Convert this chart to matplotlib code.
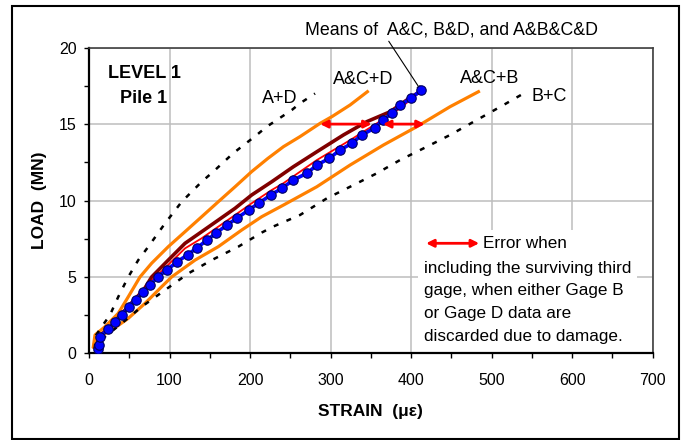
import matplotlib
matplotlib.use("Agg")
import matplotlib.pyplot as plt
from matplotlib.patches import Rectangle
from matplotlib.ticker import MultipleLocator

plt.rcParams['font.family'] = ['Liberation Sans', 'DejaVu Sans']

# ---- data (strain in microstrain, load in MN) ----
mean_all_x = [10.8, 12.4, 13.7, 24, 32.3, 40.6, 49.3, 58, 67.5, 76, 85.7, 97.3, 109.7, 122.6,
              134.2, 146.6, 157.8, 171.4, 184.3, 198.4, 211.2, 225.7, 239.4, 253.8, 270.4,
              283.6, 298.5, 311.5, 326.3, 338.8, 355, 364.8, 376, 386.3, 399.6, 412.4]
mean_all_y = [0.26, 0.54, 1.09, 1.57, 2.07, 2.5, 3.05, 3.5, 4.03, 4.47, 5.02, 5.47, 6.0, 6.45,
              6.91, 7.41, 7.87, 8.4, 8.86, 9.38, 9.84, 10.36, 10.8, 11.34, 11.78,
              12.34, 12.76, 13.3, 13.74, 14.29, 14.75, 15.27, 15.7, 16.23, 16.69, 17.2]

mean_ac_x = [10, 12, 24, 40, 58, 68, 77.9, 98.5, 119.3, 140, 160.6, 181.4, 202, 227, 253.8,
             282.9, 316, 345, 374, 394.7, 413]
mean_ac_y = [0.3, 1.1, 1.6, 2.55, 3.6, 4.15, 5.0, 6.1, 7.2, 7.96, 8.72, 9.49, 10.36, 11.23, 12.21,
             13.19, 14.29, 15.16, 15.81, 16.58, 17.2]

mean_bd_x = [10, 12, 24, 40, 58, 68, 78, 98.5, 119.3, 140, 160.6, 181.4, 202, 227, 241.4,
             283, 324.2, 357.4, 386.3, 413]
mean_bd_y = [0.3, 1.1, 1.57, 2.52, 3.55, 4.1, 4.75, 5.8, 6.87, 7.53, 8.29, 9.05, 9.82, 10.69, 11.13,
             12.65, 13.95, 15.05, 16.03, 17.2]

acd_x = [5.4, 7.5, 19.9, 36.4, 48.8, 63.4, 77.9, 98.5, 119.3, 140, 160.6, 181.4, 202, 222,
         241.4, 262, 287, 302, 324.2, 345.7]
acd_y = [0.43, 1.2, 1.74, 2.62, 3.7, 5.0, 5.9, 6.98, 7.96, 8.94, 9.92, 10.9, 11.89, 12.75,
         13.52, 14.18, 15.05, 15.5, 16.25, 17.12]

acb_x = [6, 8, 11.6, 28.2, 48.8, 69.6, 90.3, 102.7, 131.7, 160.6, 189.7, 214.5, 241.4, 282.9,
         324.2, 365.6, 407, 448.4, 483.6]
acb_y = [0.4, 1.0, 1.09, 1.52, 2.29, 3.27, 4.36, 5.0, 6.1, 6.98, 8.07, 8.94, 9.7, 10.9,
         12.32, 13.63, 14.83, 16.14, 17.12]

ad_x = [7, 9, 15.8, 26, 36.4, 48.8, 61.2, 73.7, 94.4, 115.2, 140, 154.4, 179, 208.3, 220.7,
        251.8, 262, 280.7]
ad_y = [0.3, 1.2, 1.74, 2.5, 3.7, 5.0, 6.1, 6.98, 8.5, 9.92, 11.23, 11.89, 13.09, 14.29, 14.83,
        15.92, 16.36, 17.0]

bc_x = [8, 12, 19.9, 40.6, 65.5, 94.4, 123.4, 152.4, 185.5, 214.5, 229, 262, 295.3, 324.2,
        357.4, 386.3, 419.5, 448.4, 481.6, 514.7, 539.5]
bc_y = [0.3, 1.0, 1.09, 1.96, 3.05, 4.14, 5.23, 6.1, 6.98, 7.9, 8.3, 9.05, 10.14, 10.9,
        11.78, 12.65, 13.52, 14.29, 15.27, 16.25, 17.0]

# error spans at 15 MN
err_load = 15.0
err_left = (287, 351)
err_right = (365, 417)

x_ticks = [0, 100, 200, 300, 400, 500, 600, 700]
y_ticks = [0, 5, 10, 15, 20]

# ---- figure ----
fig = plt.figure(figsize=(6.86, 4.4), dpi=100)
ax = fig.add_axes([0.1297, 0.197, 0.8218, 0.6946])

orange = '#FF8000'
ax.plot(acd_x, acd_y, color=orange, lw=2.3, zorder=2)
ax.plot(acb_x, acb_y, color=orange, lw=2.3, zorder=2)
ax.plot(ad_x, ad_y, color='black', lw=1.8, linestyle=(0, (2, 3.5)), zorder=2)
ax.plot(bc_x, bc_y, color='black', lw=1.8, linestyle=(0, (2, 3.5)), zorder=2)
ax.plot(mean_ac_x, mean_ac_y, color='#800000', lw=2.6, zorder=3)
ax.plot(mean_bd_x, mean_bd_y, color='#FF0000', lw=1.3, zorder=3.5)
ax.plot(mean_all_x, mean_all_y, color='#0000FF', lw=2.6, marker='o', ms=6.8,
        mfc='#0000FF', mec='#000060', mew=0.8, zorder=4)

arrow_kw = dict(arrowstyle='<|-|>', color='#FF0000', lw=2.0, mutation_scale=11,
                shrinkA=0, shrinkB=0)
ax.annotate('', xy=(err_left[0], err_load), xytext=(err_left[1], err_load),
            arrowprops=arrow_kw, zorder=5)
ax.annotate('', xy=(err_right[0], err_load), xytext=(err_right[1], err_load),
            arrowprops=arrow_kw, zorder=5)

# axes styling
ax.set_xlim(0, 700)
ax.set_ylim(0, 20)
ax.set_xticks(x_ticks)
ax.set_yticks(y_ticks)
ax.xaxis.set_minor_locator(MultipleLocator(50))
ax.yaxis.set_minor_locator(MultipleLocator(2.5))
ax.set_axisbelow(True)
ax.grid(True, which='major', color='#BDBDBD', lw=1.1)
ax.tick_params(which='both', direction='out', length=3.5, width=1.0, color='black')
ax.tick_params(axis='x', which='major', labelsize=11.5, pad=10.5)
ax.tick_params(axis='y', which='major', labelsize=11.5, pad=5.5)
for side in ('left', 'bottom'):
    ax.spines[side].set_color('black')
    ax.spines[side].set_linewidth(1.6)
for side in ('top', 'right'):
    ax.spines[side].set_color('#404040')
    ax.spines[side].set_linewidth(1.2)

ax.set_xlabel('STRAIN  (\u03bc\u03b5)', fontsize=12.5, fontweight='bold', va='center')
ax.xaxis.set_label_coords(0.4985, -0.189)
ax.set_ylabel('LOAD  (MN)', fontsize=12.5, fontweight='bold', va='center')
ax.yaxis.set_label_coords(-0.087, 0.502)

# white box behind the note
ax.add_patch(Rectangle((408.7, 0), 272, 8.07, facecolor='white', edgecolor='none', zorder=1))

# text labels
ax.text(68.3, 18.34, 'LEVEL 1', fontsize=13, fontweight='bold', ha='center', va='center')
ax.text(68.3, 16.7, 'Pile 1', fontsize=13, fontweight='bold', ha='center', va='center')
ax.text(237.3, 16.7, 'A+D', fontsize=13, ha='center', va='center')
ax.text(341, 17.9, 'A&C+D', fontsize=13, ha='center', va='center')
ax.text(498, 18.0, 'A&C+B', fontsize=13, ha='center', va='center')
ax.text(571, 16.8, 'B+C', fontsize=13, ha='center', va='center')

ax.annotate('Means of  A&C, B&D, and A&B&C&D', xy=(mean_all_x[-1], mean_all_y[-1]),
            xytext=(450, 21.16), fontsize=12.8, ha='center', va='center',
            annotation_clip=False,
            arrowprops=dict(arrowstyle='-|>', color='black', lw=0.8, mutation_scale=6,
                            shrinkA=0, shrinkB=0, relpos=(0.28, 0.0)))

ax.annotate('', xy=(418.6, 7.2), xytext=(484.5, 7.2), arrowprops=arrow_kw, zorder=5)
ax.text(489.4, 7.2, 'Error when', fontsize=12.3, ha='left', va='center')
note_lines = ['including the surviving third',
              'gage, when either Gage B',
              'or Gage D data are',
              'discarded due to damage.']
for i, line in enumerate(note_lines):
    ax.text(416, 5.58 - i * 1.49, line, fontsize=12.3, ha='left', va='center')

# outer frame
fig.patches.append(Rectangle((0.0175, 0.0023), 0.9723, 0.9837, transform=fig.transFigure,
                             fill=False, edgecolor='black', lw=1.5))

fig.savefig('out.png', dpi=100)
